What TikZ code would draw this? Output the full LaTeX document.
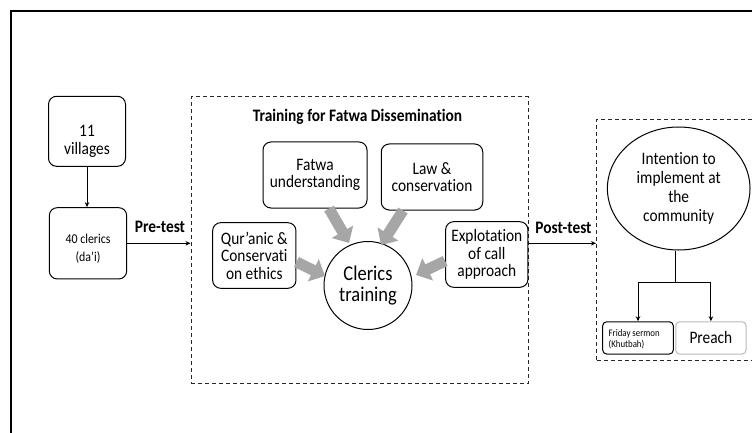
\documentclass[tikz,border=0pt]{standalone}
\usepackage{fontspec}
\setmainfont{Carlito}[FakeStretch=0.88,Ligatures=NoCommon]
\usetikzlibrary{arrows.meta,calc,shapes.geometric}
\begin{document}
\begin{tikzpicture}[x=1pt,y=-1pt,
  rbox/.style={draw=black,line width=1pt,rounded corners=8pt,inner sep=0pt,fill=white},
  txt/.style={align=center,inner sep=0pt,font=\fontsize{17.5}{17.5}\selectfont},
  dbox/.style={draw=black!85,line width=1pt,dash pattern=on 4pt off 3pt,inner sep=0pt},
  tarrow/.style={draw=black,line width=1pt,-{Stealth[length=5pt,width=4.5pt]}},
  grarrow/.style={draw=gray!70,line width=11pt,-{Triangle[width=24pt,length=13pt]}},
  lbl/.style={font=\bfseries\fontsize{17.5}{17.5}\selectfont,inner sep=0pt,anchor=base}
]
\useasboundingbox (0,0) rectangle (752,433);
\fill[white] (0,0) rectangle (752,433);
\draw[line width=2pt] (10.5,433) -- (10.5,11.5) -- (752,11.5);

% left column
\node[rbox,minimum width=77pt,minimum height=70pt] (vil) at (87,131.3) {};
\node[txt,font=\fontsize{17.5}{18}\selectfont] (viltxt) at (87,141) {11\\villages};
\node[rbox,minimum width=77.4pt,minimum height=71.3pt] (cl) at (88,243.3) {};
\node[txt,font=\fontsize{13.5}{17.5}\selectfont] (cltxt) at (88,248.5) {40 clerics\\(da’i)};
\draw[tarrow] (vil.south) -- (vil.south |- cl.north);

% training box
\node[dbox,minimum width=337.5pt,minimum height=286pt] (tr) at (359.75,240) {};
\node[lbl] (title) at (357.5,121.7) {Training for Fatwa Dissemination};
\node[rbox,txt,minimum width=104pt,minimum height=66pt] (fat) at (315,175) {Fatwa\\understanding};
\node[rbox,txt,minimum width=101.5pt,minimum height=66pt] (law) at (432,177) {Law \&\\conservation};
\node[rbox,txt,minimum width=83.3pt,minimum height=65.6pt] (qur) at (254.3,255.5) {Qur’anic \&\\Conservati\\on ethics};
\node[rbox,txt,minimum width=82.3pt,minimum height=65.6pt] (exp) at (486.8,254.5) {Explotation\\of call\\approach};
\node[draw,circle,line width=1pt,minimum size=88pt,inner sep=0pt,align=center,font=\fontsize{21}{21}\selectfont] (ct) at (368,285.5) {Clerics\\training};

\draw[grarrow] ($(fat.south)+(14,0)$) -- ($(ct.center)+(-19,-42.5)$);
\draw[grarrow] ($(law.south)+(-29,0)$) -- ($(ct.center)+(13,-40.5)$);
\draw[grarrow] ($(qur.east)+(0,6.5)$) -- ($(ct.center)+(-43,-9.5)$);
\draw[grarrow] ($(exp.west)+(0,6.5)$) -- ($(ct.center)+(48,-10.5)$);

% pre / post test
\draw[tarrow] (cl.east) -- (cl.east -| tr.west);
\node[lbl] (prel) at (160,232.7) {Pre-test};

\node[dbox,minimum width=164pt,minimum height=240.5pt,anchor=north west] (com) at (596,119) {};
\draw[tarrow] (cl.east -| tr.east) -- (cl.east -| com.west);
\node[lbl] (postl) at (563.5,233.5) {Post-test};

% community box
\node[draw,ellipse,line width=1pt,minimum width=142.6pt,minimum height=123pt,inner sep=0pt,align=center,font=\fontsize{17.5}{19}\selectfont] (int) at (678.7,188.5) {Intention to\\implement at\\the\\community};
\coordinate (jn) at (675.3,282.7);
\node[rbox,rounded corners=4pt,minimum width=70.6pt,minimum height=32.3pt] (fri) at (638,337.9) {};
\node[align=left,inner sep=0pt,anchor=west,font=\fontsize{10}{11}\selectfont] (fritxt) at (608.5,339) {Friday sermon\\(Khutbah)};
\node[rbox,txt,draw=gray!55,rounded corners=4pt,minimum width=70.3pt,minimum height=32.3pt] (pre) at (710.9,337.9) {Preach};
\draw[line width=1pt] (jn |- int.south) -- (jn);
\draw[tarrow] (jn) -| (fri.north);
\draw[tarrow] (jn) -| (pre.north);
\end{tikzpicture}
\end{document}
